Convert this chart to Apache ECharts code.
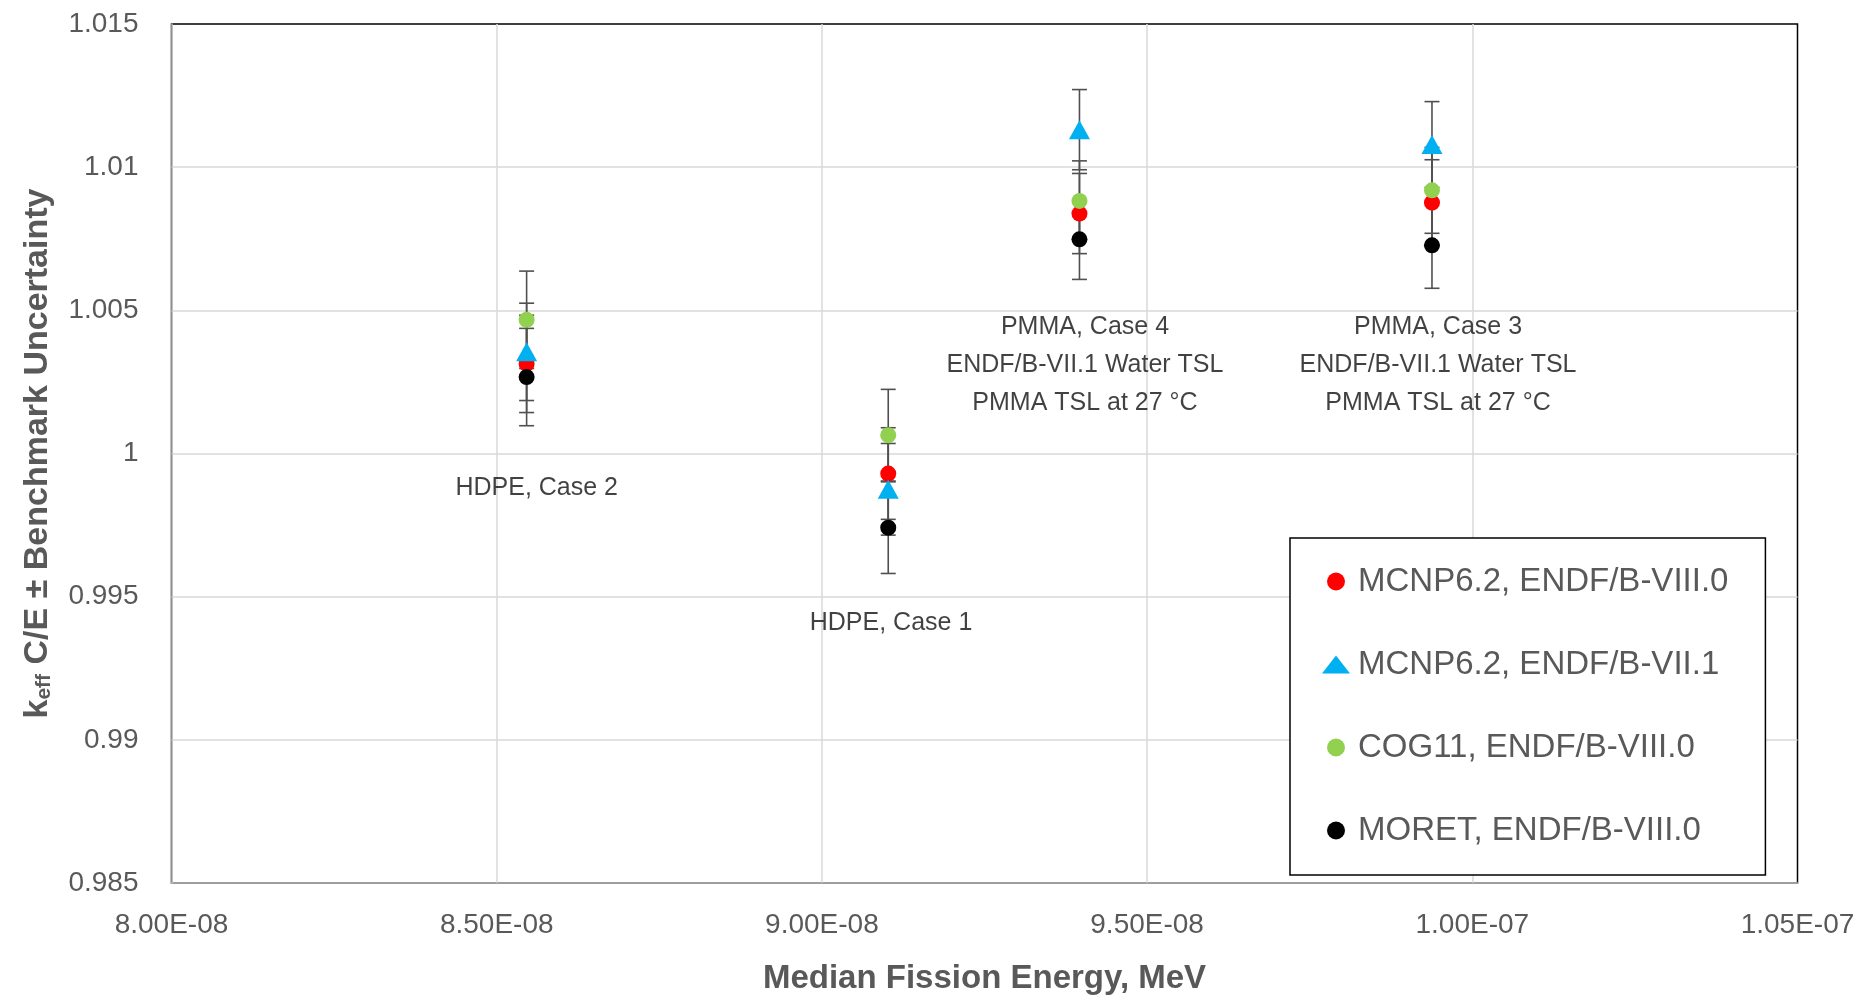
<!DOCTYPE html>
<html>
<head>
<meta charset="utf-8">
<script src="https://cdn.jsdelivr.net/npm/echarts@6/dist/echarts.min.js"></script>
<style>
html,body{margin:0;padding:0;background:#fff;}
#chart{width:1868px;height:1000px;}
</style>
</head>
<body>
<div id="chart"></div>
<script>
// ---- data ----
const energies = [8.546e-8, 9.102e-8, 9.396e-8, 9.938e-8];          // Case 2, Case 1, Case 4, Case 3
const mcnpB8 = [1.00313, 0.99930, 1.00838, 1.00876];                 // MCNP6.2, ENDF/B-VIII.0
const mcnpB7 = [1.00355, 0.99875, 1.01131, 1.01079];                 // MCNP6.2, ENDF/B-VII.1
const cogB8 = [1.00467, 1.00064, 1.00882, 1.00919];                  // COG11, ENDF/B-VIII.0
const moretB8 = [1.00267, 0.99741, 1.00748, 1.00727];                // MORET, ENDF/B-VIII.0
const benchUnc = [0.0017, 0.0016, 0.0014, 0.0015];                   // benchmark uncertainty per case
const seriesNames = ['MCNP6.2, ENDF/B-VIII.0', 'MCNP6.2, ENDF/B-VII.1', 'COG11, ENDF/B-VIII.0', 'MORET, ENDF/B-VIII.0'];
const caseTexts = ['HDPE, Case 2', 'HDPE, Case 1',
  'PMMA, Case 4\nENDF/B-VII.1 Water TSL\nPMMA TSL at 27 °C',
  'PMMA, Case 3\nENDF/B-VII.1 Water TSL\nPMMA TSL at 27 °C'];
const caseTextAnchorX = [8.5615e-8, 9.1063e-8, 9.4045e-8, 9.9473e-8];
const caseTextAnchorY = [0.99878, 0.99408, 1.00308, 1.00308];
const xTickLabels = ['8.00E-08', '8.50E-08', '9.00E-08', '9.50E-08', '1.00E-07', '1.05E-07'];
const yTickLabels = ['0.985', '0.99', '0.995', '1', '1.005', '1.01', '1.015'];

// ---- build ----
const allValues = [mcnpB8, mcnpB7, cogB8, moretB8];
const colors = ['#ff0000', '#00b0f0', '#92d050', '#000000'];
const symbols = ['circle', 'triangle', 'circle', 'circle'];
const symbolSizes = [16, [21, 19], 16, 16];
const FONT = '"Liberation Sans", Arial, sans-serif';

const errData = [];
allValues.forEach(vals => vals.forEach((v, i) => {
  errData.push([energies[i], v - benchUnc[i], v + benchUnc[i]]);
}));

const series = [{
  type: 'custom',
  name: 'errorbars',
  z: 1,
  silent: true,
  encode: { x: 0, y: [1, 2] },
  data: errData,
  renderItem: function (params, api) {
    const x = api.value(0);
    const lo = api.coord([x, api.value(1)]);
    const hi = api.coord([x, api.value(2)]);
    const w = 7.5;
    const st = { stroke: '#505050', lineWidth: 1.6 };
    return {
      type: 'group',
      children: [
        { type: 'line', shape: { x1: lo[0], y1: lo[1], x2: hi[0], y2: hi[1] }, style: st },
        { type: 'line', shape: { x1: lo[0] - w, y1: lo[1], x2: lo[0] + w, y2: lo[1] }, style: st },
        { type: 'line', shape: { x1: hi[0] - w, y1: hi[1], x2: hi[0] + w, y2: hi[1] }, style: st }
      ]
    };
  }
}];

allValues.forEach((vals, k) => {
  series.push({
    type: 'scatter',
    name: seriesNames[k],
    z: 3 + k,
    symbol: symbols[k],
    symbolSize: symbolSizes[k],
    itemStyle: { color: colors[k], opacity: 1 },
    data: vals.map((v, i) => [energies[i], v])
  });
});

series.push({
  type: 'scatter',
  name: 'caseText',
  z: 10,
  silent: true,
  symbolSize: 0,
  data: caseTexts.map((t, i) => ({ value: [caseTextAnchorX[i], caseTextAnchorY[i]], text: t })),
  label: {
    show: true,
    position: 'inside',
    formatter: p => p.data.text,
    color: '#111',
    fontFamily: FONT,
    fontSize: 25,
    lineHeight: 38,
    align: 'center',
    verticalAlign: 'middle'
  }
});

const chart = echarts.init(document.getElementById('chart'));
chart.setOption({
  animation: false,
  backgroundColor: '#fff',
  grid: {
    left: 171.5, right: 70.5, top: 24, bottom: 114,
    show: true, borderColor: '#000', borderWidth: 1.5, backgroundColor: 'transparent'
  },
  xAxis: {
    type: 'value',
    min: 8e-8, max: 1.05e-7, interval: 5e-9,
    name: 'Median Fission Energy, MeV',
    nameLocation: 'middle',
    nameGap: 79,
    nameTextStyle: { fontFamily: FONT, fontSize: 33, fontWeight: 'bold', color: '#595959' },
    axisLine: { show: true, lineStyle: { color: '#bfbfbf', width: 1.5 } },
    axisTick: { show: false },
    axisLabel: {
      margin: 28, fontFamily: FONT, fontSize: 28, color: '#595959',
      formatter: v => xTickLabels[Math.round((v - 8e-8) / 5e-9)]
    },
    splitLine: { show: true, showMinLine: false, showMaxLine: false, lineStyle: { color: '#d9d9d9', width: 1.5 } }
  },
  yAxis: {
    type: 'value',
    min: 0.985, max: 1.015, interval: 0.005,
    name: '{k|k}{sub|eff}{n| C/E ± Benchmark Uncertainty}',
    nameLocation: 'middle',
    nameGap: 117,
    nameRotate: 90,
    nameTextStyle: {
      fontFamily: FONT, fontWeight: 'bold', color: '#595959', fontSize: 34,
      rich: {
        k: { fontFamily: FONT, fontWeight: 'bold', color: '#595959', fontSize: 34, verticalAlign: 'bottom', lineHeight: 36 },
        sub: { fontFamily: FONT, fontWeight: 'bold', color: '#595959', fontSize: 21, verticalAlign: 'bottom', lineHeight: 32 },
        n: { fontFamily: FONT, fontWeight: 'bold', color: '#595959', fontSize: 34, verticalAlign: 'bottom', lineHeight: 36 }
      }
    },
    axisLine: { show: true, lineStyle: { color: '#bfbfbf', width: 1.5 } },
    axisTick: { show: false },
    axisLabel: {
      margin: 33, fontFamily: FONT, fontSize: 28, color: '#595959',
      formatter: v => yTickLabels[Math.round((v - 0.985) / 0.005)]
    },
    splitLine: { show: true, showMinLine: false, showMaxLine: false, lineStyle: { color: '#d9d9d9', width: 1.5 } }
  },
  legend: {
    data: seriesNames,
    orient: 'vertical',
    left: 1290,
    top: 538,
    padding: [27, 37, 28, 32],
    itemGap: 50,
    itemWidth: 28,
    itemHeight: 18,
    backgroundColor: '#fff',
    borderColor: '#000',
    borderWidth: 1.5,
    borderRadius: 0,
    selectedMode: false,
    textStyle: { fontFamily: FONT, fontSize: 33, color: '#595959', padding: [0, 0, 0, 3] }
  },
  series: series
});
</script>
</body>
</html>
